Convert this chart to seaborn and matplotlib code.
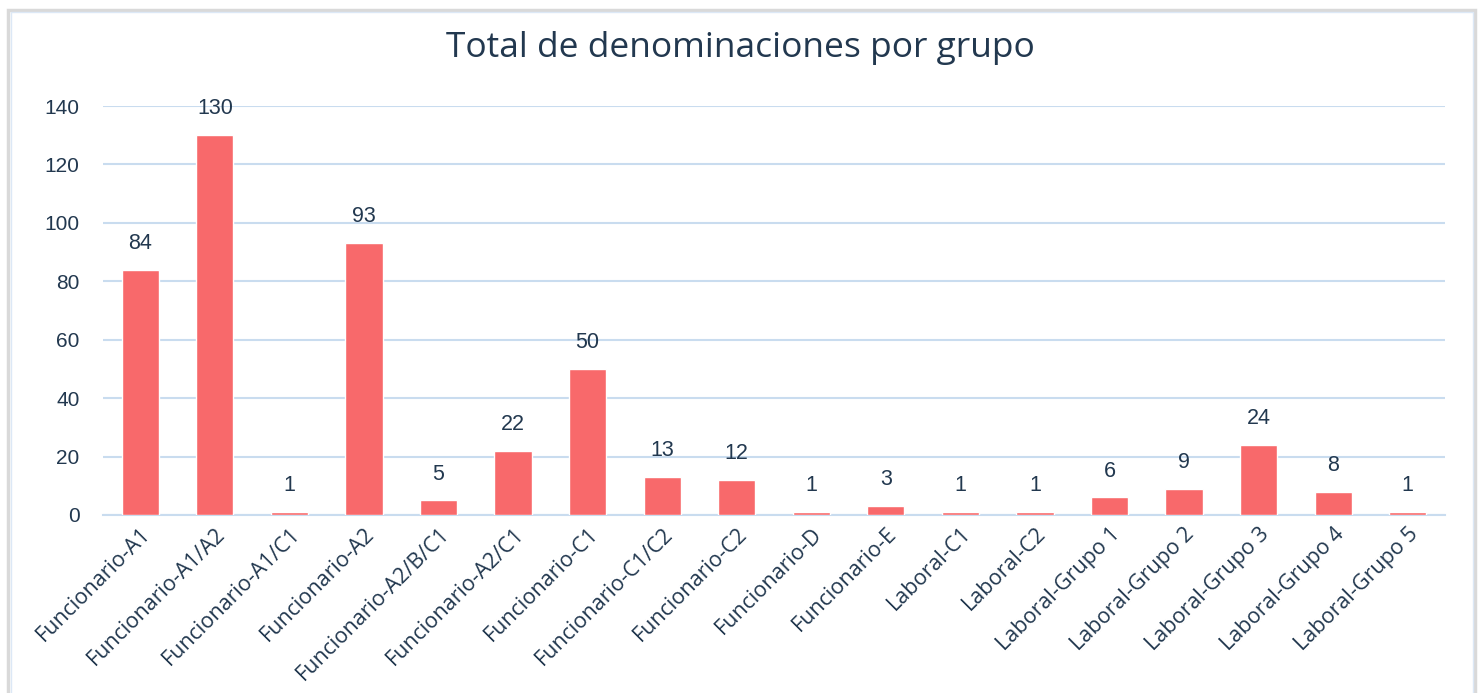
import matplotlib
matplotlib.use("Agg")
import matplotlib.pyplot as plt
import seaborn as sns
import pandas as pd
from matplotlib.patches import Rectangle

# Data
grupos = [
    "Funcionario-A1", "Funcionario-A1/A2", "Funcionario-A1/C1", "Funcionario-A2",
    "Funcionario-A2/B/C1", "Funcionario-A2/C1", "Funcionario-C1", "Funcionario-C1/C2",
    "Funcionario-C2", "Funcionario-D", "Funcionario-E", "Laboral-C1", "Laboral-C2",
    "Laboral-Grupo 1", "Laboral-Grupo 2", "Laboral-Grupo 3", "Laboral-Grupo 4",
    "Laboral-Grupo 5",
]
totales = [84, 130, 1, 93, 5, 22, 50, 13, 12, 1, 3, 1, 1, 6, 9, 24, 8, 1]
y_ticks = [0, 20, 40, 60, 80, 100, 120, 140]

df = pd.DataFrame({"grupo": grupos, "total": totales})

sns.set_style("white")
plt.rcParams["font.family"] = ["Liberation Sans", "DejaVu Sans"]

text_color = "#22384f"
grid_color = "#c9dcef"
bar_color = "#f8696b"

fig = plt.figure(figsize=(14.81, 6.93), dpi=100)
ax = fig.add_axes([103 / 1481, 1 - 515 / 693, 1342 / 1481, 409 / 693])

sns.barplot(data=df, x="grupo", y="total", color=bar_color, width=0.5,
            saturation=1, ax=ax, zorder=3)

ax.set_ylim(0, 140)
ax.set_xlim(-0.5, len(grupos) - 0.5)
ax.set_yticks(y_ticks)
ax.tick_params(axis="y", labelsize=15, colors=text_color, length=0, pad=17)
ax.tick_params(axis="x", labelsize=15.5, colors=text_color, length=0, pad=6)
plt.setp(ax.get_xticklabels(), rotation=45, ha="right", rotation_mode="anchor",
         family=["Open Sans", "DejaVu Sans"])
ax.set_xlabel("")
ax.set_ylabel("")
ax.grid(axis="y", color=grid_color, linewidth=1.5, zorder=0)
for s in ["top", "right", "left"]:
    ax.spines[s].set_visible(False)
ax.spines["bottom"].set_color(grid_color)
ax.spines["bottom"].set_linewidth(1.5)

for i, v in enumerate(totales):
    ax.annotate(str(v), (i, v), xytext=(0, 19), textcoords="offset points",
                ha="center", va="center", fontsize=15.5, color=text_color)

fig.text(0.5, 1 - 48 / 693, "Total de denominaciones por grupo", ha="center", va="center",
         fontsize=25.5, color=text_color, family=["Open Sans", "DejaVu Sans"])

# chart frame: outer gray, inner light blue, open at the bottom
fig.patches.append(Rectangle((8 / 1481, -0.05), 1467 / 1481, 1.05 - 10 / 693,
                             transform=fig.transFigure, fill=False,
                             edgecolor="#d9d9d9", linewidth=2.5))
fig.patches.append(Rectangle((10.5 / 1481, -0.05), 1462 / 1481, 1.05 - 12 / 693,
                             transform=fig.transFigure, fill=False,
                             edgecolor="#dce8f6", linewidth=1))

fig.savefig("out.png", dpi=100)
